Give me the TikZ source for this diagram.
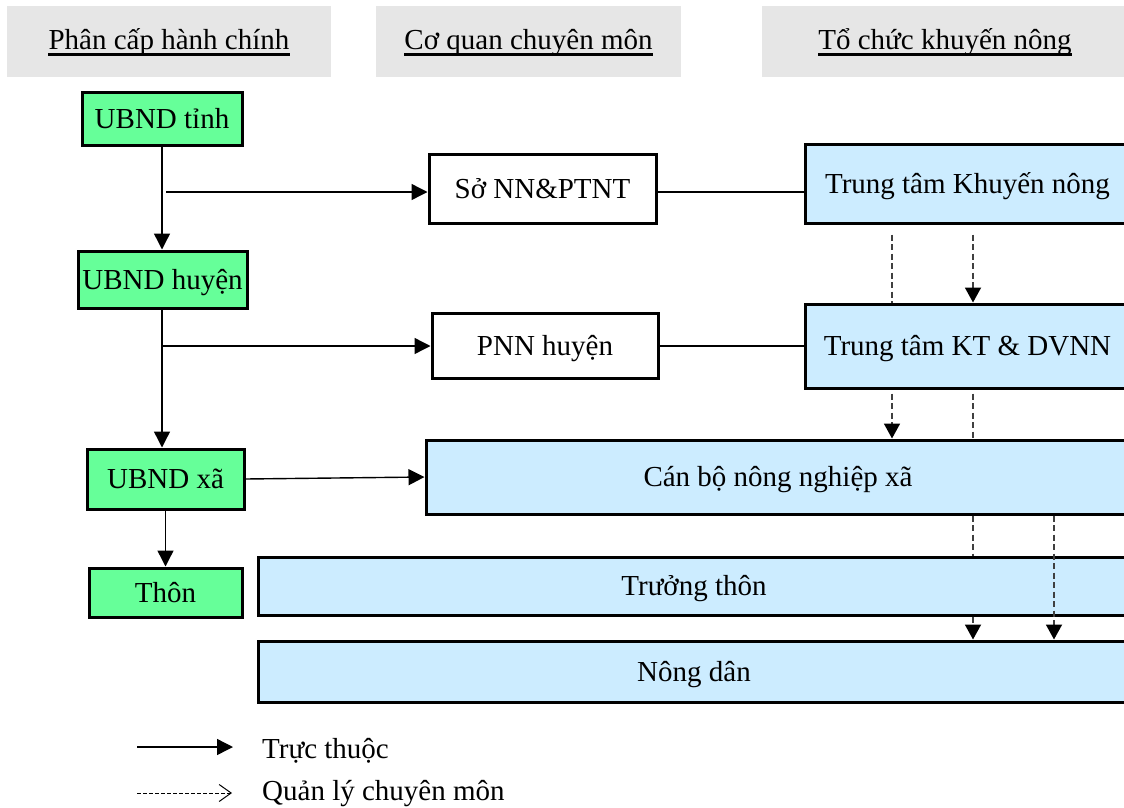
\documentclass[tikz,border=0pt]{standalone}
\usepackage{fontspec}
\setmainfont{Liberation Serif}
\usetikzlibrary{arrows.meta,calc}
\definecolor{gfill}{HTML}{66FF99}
\definecolor{bfill}{HTML}{CCECFF}
\definecolor{hfill}{HTML}{E6E6E6}
\begin{document}
\begin{tikzpicture}[x=1pt,y=-1pt,
 every node/.style={font=\fontsize{29}{34}\selectfont, inner sep=0pt, text height=26pt, text depth=7pt},
 box/.style={draw, line width=3pt, align=center},
 gbox/.style={box, fill=gfill},
 bbox/.style={box, fill=bfill},
 wbox/.style={box, fill=white},
 hbox/.style={fill=hfill},
 conn/.style={line width=1.4pt, -{Triangle[length=16pt,width=16pt]}},
 plainline/.style={line width=1.4pt},
 dsh/.style={line width=1.8pt, dash pattern=on 6pt off 3.5pt, draw=black!75},
 dsharrow/.style={dsh, -{Triangle[length=15pt,width=16pt,color=black]}},
 uline/.style={line width=2.6pt},
]
\useasboundingbox (0,0) rectangle (1124,808);
\clip (0,0) rectangle (1124,808);

% headers
\node[hbox, minimum width=324pt, minimum height=71pt] (h1) at (169,41.5) {};
\node[hbox, minimum width=305pt, minimum height=71pt] (h2) at (528.5,41.5) {};
\node[hbox, minimum width=366pt, minimum height=71pt] (h3) at (945,41.5) {};
\node[anchor=base] (t1) at (169,50) {Phân cấp hành chính};
\node[anchor=base] (t2) at (528.5,50) {Cơ quan chuyên môn};
\node[anchor=base] (t3) at (945,50) {Tổ chức khuyến nông};
\draw[uline] ([yshift=-4.5pt]t1.base west) -- ([yshift=-4.5pt]t1.base east);
\draw[uline] ([yshift=-4.5pt]t2.base west) -- ([yshift=-4.5pt]t2.base east);
\draw[uline] ([yshift=-4.5pt]t3.base west) -- ([yshift=-4.5pt]t3.base east);

% administrative column
\node[gbox, minimum width=160pt, minimum height=53pt] (tinh) at (162,118.5) {UBND tỉnh};
\node[gbox, minimum width=169pt, minimum height=57pt] (huyen) at (162.5,279.5) {UBND huyện};
\node[gbox, minimum width=157pt, minimum height=60pt] (xa) at (165.5,479) {UBND xã};
\node[gbox, minimum width=153pt, minimum height=49pt] (thon) at (165.5,592.5) {Thôn};

% specialised agencies
\node[wbox, minimum width=227pt, minimum height=69pt] (so) at (542.5,188.5) {Sở NN\&PTNT};
\node[wbox, minimum width=226pt, minimum height=65pt] (pnn) at (545,345.5) {PNN huyện};

% extension organisations
\node[bbox, minimum width=325pt, minimum height=79pt] (ttkn) at (967.5,183.5) {Trung tâm Khuyến nông};
\node[bbox, minimum width=325pt, minimum height=84pt] (kt) at (967.5,346) {Trung tâm KT \& DVNN};
\node[bbox, minimum width=704pt, minimum height=74pt] (canbo) at (778,477) {Cán bộ nông nghiệp xã};
\node[bbox, minimum width=872pt, minimum height=58pt] (truong) at (694,586) {Trưởng thôn};
\node[bbox, minimum width=872pt, minimum height=61pt] (nongdan) at (694,671.5) {Nông dân};

% solid connectors
\coordinate (b1) at (166,192);
\coordinate (b2) at (162,346);
\draw[conn] (tinh.south) -- (tinh.south |- huyen.north);
\draw[conn] (b1) -- (b1 -| so.west);
\draw[plainline] (b1 -| so.east) -- (b1 -| ttkn.west);
\draw[conn] (tinh.south |- huyen.south) -- (tinh.south |- xa.north);
\draw[conn] (b2) -- (b2 -| pnn.west);
\draw[plainline] (b2 -| pnn.east) -- (b2 -| kt.west);
\draw[conn] (xa.east) -- (canbo.west);
\draw[conn] (xa.south) -- (thon.north);

% dashed connectors
\coordinate (xa1) at (892,0);
\coordinate (xb1) at (973,0);
\coordinate (xc1) at (1054,0);
\draw[dsh, shorten <=10pt] (ttkn.south -| xa1) -- (kt.north -| xa1);
\draw[dsharrow, shorten <=10pt] (ttkn.south -| xb1) -- (kt.north -| xb1);
\draw[dsharrow, shorten <=4pt] (kt.south -| xa1) -- (canbo.north -| xa1);
\draw[dsh, shorten <=4pt] (kt.south -| xb1) -- (canbo.north -| xb1);
\draw[dsh] (canbo.south -| xb1) -- (truong.north -| xb1);
\draw[dsharrow] (truong.south -| xb1) -- (nongdan.north -| xb1);
\draw[dsharrow] (canbo.south -| xc1) -- (nongdan.north -| xc1);

% legend
\coordinate (la1) at (137,747);
\coordinate (la2) at (233,747);
\draw[conn] (la1) -- (la2);
\node[anchor=west] (lt1) at (262,749) {Trực thuộc};
\coordinate (lb1) at (137,793);
\coordinate (lb2) at (232,793);
\draw[line width=1pt, dash pattern=on 3.5pt off 2.5pt, -{Straight Barb[length=12pt,width=17pt,line width=1pt]}] (lb1) -- (lb2);
\node[anchor=west] (lt2) at (262,791) {Quản lý chuyên môn};
\end{tikzpicture}
\end{document}
